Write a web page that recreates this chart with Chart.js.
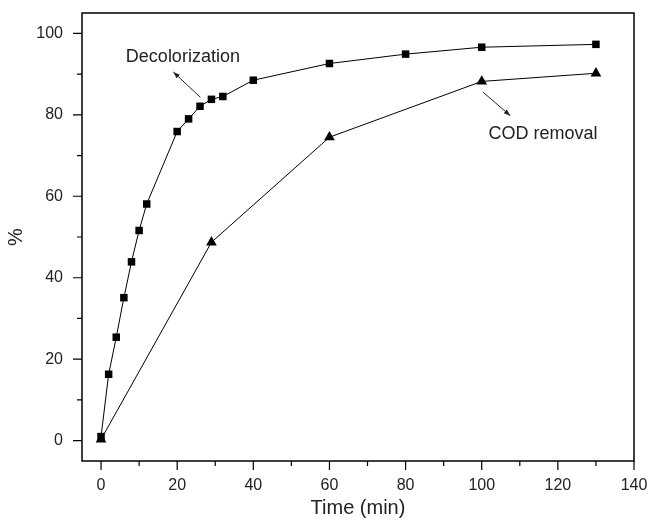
<!DOCTYPE html>
<html>
<head>
<meta charset="utf-8">
<script src="https://cdn.jsdelivr.net/npm/chart.js@4.4.0/dist/chart.umd.min.js"></script>
<style>
  html, body { margin: 0; padding: 0; background: #fff; }
  #wrap { width: 648px; height: 522px; }
</style>
</head>
<body>
<div id="wrap"><canvas id="myChart"></canvas></div>
<script>
// values
const decolTime = [0, 2, 4, 6, 8, 10, 12, 20, 23, 26, 29, 32, 40, 60, 80, 100, 130];
const decolPct = [1, 16.3, 25.4, 35.1, 43.9, 51.6, 58.1, 75.9, 79.0, 82.1, 83.8, 84.5, 88.5, 92.6, 94.9, 96.6, 97.3];
const codTime = [0, 29, 60, 100, 130];
const codPct = [0.3, 48.7, 74.5, 88.2, 90.2];
const xTicks = [0, 10, 20, 30, 40, 50, 60, 70, 80, 90, 100, 110, 120, 130, 140];
const yTicks = [0, 10, 20, 30, 40, 50, 60, 70, 80, 90, 100];

const toPoints = (xs, ys) => xs.map((x, i) => ({ x: x, y: ys[i] }));

// box + outside tick marks (major every 20, minor between)
const frame = {
  id: "frame",
  afterDraw(chart) {
    const { ctx, chartArea: a, scales } = chart;
    ctx.save();
    ctx.strokeStyle = "#000";
    ctx.lineWidth = 1.5;
    ctx.strokeRect(a.left, a.top, a.right - a.left, a.bottom - a.top);
    ctx.lineWidth = 1.2;
    ctx.beginPath();
    xTicks.forEach((v) => {
      const px = scales.x.getPixelForValue(v);
      const len = v % 20 === 0 ? 9 : 5;
      ctx.moveTo(px, a.bottom);
      ctx.lineTo(px, a.bottom + len);
    });
    yTicks.forEach((v) => {
      const py = scales.y.getPixelForValue(v);
      const len = v % 20 === 0 ? 9 : 5;
      ctx.moveTo(a.left, py);
      ctx.lineTo(a.left - len, py);
    });
    ctx.stroke();
    ctx.restore();
  },
};

// text labels with arrows, anchored in data units
const notes = [
  { text: "Decolorization", tx: 21.5, ty: 94.3, from: [26.1, 84.3], to: [19.0, 90.5] },
  { text: "COD removal", tx: 116.1, ty: 75.2, from: [100.3, 85.6], to: [107.5, 79.8] },
];

const labels = {
  id: "labels",
  afterDatasetsDraw(chart) {
    const { ctx, scales } = chart;
    ctx.save();
    ctx.fillStyle = "#222";
    ctx.strokeStyle = "#222";
    ctx.font = "18px 'Liberation Sans', Arial, sans-serif";
    ctx.textAlign = "center";
    ctx.textBaseline = "middle";
    notes.forEach((n) => {
      ctx.fillText(n.text, scales.x.getPixelForValue(n.tx), scales.y.getPixelForValue(n.ty));
      const x1 = scales.x.getPixelForValue(n.from[0]);
      const y1 = scales.y.getPixelForValue(n.from[1]);
      const x2 = scales.x.getPixelForValue(n.to[0]);
      const y2 = scales.y.getPixelForValue(n.to[1]);
      const ang = Math.atan2(y2 - y1, x2 - x1);
      ctx.lineWidth = 1;
      ctx.beginPath();
      ctx.moveTo(x1, y1);
      ctx.lineTo(x2, y2);
      ctx.stroke();
      ctx.beginPath();
      ctx.moveTo(x2, y2);
      ctx.lineTo(x2 - 7 * Math.cos(ang - 0.35), y2 - 7 * Math.sin(ang - 0.35));
      ctx.lineTo(x2 - 7 * Math.cos(ang + 0.35), y2 - 7 * Math.sin(ang + 0.35));
      ctx.closePath();
      ctx.fill();
    });
    ctx.restore();
  },
};

const font = "'Liberation Sans', Arial, sans-serif";

new Chart(document.getElementById("myChart"), {
  type: "scatter",
  data: {
    datasets: [
      {
        label: "Decolorization",
        data: toPoints(decolTime, decolPct),
        showLine: true,
        borderColor: "#000",
        borderWidth: 1,
        pointStyle: "rect",
        pointRadius: 5.3,
        pointBackgroundColor: "#000",
        pointBorderColor: "#000",
        pointBorderWidth: 0,
      },
      {
        label: "COD removal",
        data: toPoints(codTime, codPct),
        showLine: true,
        borderColor: "#000",
        borderWidth: 1,
        pointStyle: "triangle",
        pointRadius: 6.2,
        pointBackgroundColor: "#000",
        pointBorderColor: "#000",
        pointBorderWidth: 0,
      },
    ],
  },
  options: {
    responsive: true,
    maintainAspectRatio: false,
    animation: false,
    layout: { padding: { left: 0, right: 14, top: 13, bottom: 0 } },
    plugins: {
      legend: { display: false },
      tooltip: { enabled: false },
    },
    scales: {
      x: {
        type: "linear",
        min: -5,
        max: 140,
        afterBuildTicks: (s) => { s.ticks = xTicks.map((v) => ({ value: v })); },
        afterFit: (s) => { s.height = 61; s.paddingLeft = 0; s.paddingRight = 0; },
        ticks: {
          padding: 7,
          color: "#222",
          font: { family: font, size: 16 },
          maxRotation: 0,
          autoSkip: false,
          callback: (v) => (v % 20 === 0 ? v : ""),
        },
        grid: { display: false },
        border: { display: false },
        title: {
          display: true,
          text: "Time (min)",
          color: "#222",
          font: { family: font, size: 20 },
          padding: { top: 0, bottom: 2 },
        },
      },
      y: {
        min: -5,
        max: 105,
        afterBuildTicks: (s) => { s.ticks = yTicks.map((v) => ({ value: v })); },
        afterFit: (s) => { s.width = 82; s.paddingTop = 0; s.paddingBottom = 0; },
        ticks: {
          padding: 11,
          color: "#222",
          font: { family: font, size: 16 },
          autoSkip: false,
          callback: (v) => (v % 20 === 0 ? v : ""),
        },
        grid: { display: false },
        border: { display: false },
        title: {
          display: true,
          text: "%",
          color: "#222",
          font: { family: font, size: 20 },
          padding: { top: 4, bottom: 0 },
        },
      },
    },
  },
  plugins: [frame, labels],
});
</script>
</body>
</html>
